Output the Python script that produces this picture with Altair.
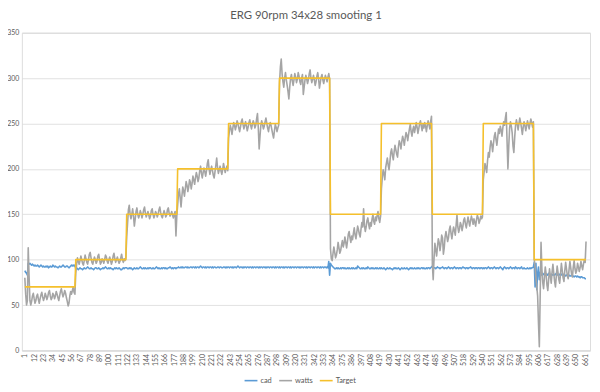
import altair as alt
import pandas as pd

# Target set-point segments: (first sample index, watts)
target_starts = [1, 61, 121, 181, 241, 301, 361, 421, 481, 541, 601]
target_levels = [70, 100, 150, 200, 250, 300, 150, 250, 150, 250, 100]
n_samples = 662

watts = [
    # 1-60
    80, 62, 50, 55, 113, 82, 55, 50, 54, 60, 63, 57, 52, 55, 60, 62, 56, 52, 57, 61,
    64, 59, 55, 58, 63, 60, 56, 59, 64, 66, 60, 56, 58, 63, 61, 57, 60, 65, 62, 58,
    55, 60, 65, 68, 63, 59, 62, 66, 63, 58, 54, 49, 52, 60, 65, 62, 66, 70, 64, 62,
    # 61-120
    85, 95, 102, 98, 95, 99, 104, 100, 96, 94, 99, 105, 101, 97, 95, 100, 106, 108, 102, 97,
    95, 99, 103, 100, 96, 98, 104, 106, 100, 95, 97, 101, 99, 96, 100, 105, 103, 98, 96, 100,
    103, 99, 95, 98, 104, 107, 101, 97, 100, 103, 99, 96, 98, 102, 106, 100, 97, 101, 99, 102,
    # 121-180
    125, 140, 155, 160, 150, 145, 150, 156, 148, 137, 145, 153, 157, 150, 146, 149, 154, 151, 146, 150,
    155, 158, 151, 147, 150, 153, 149, 145, 148, 154, 156, 150, 146, 149, 153, 151, 147, 150, 155, 158,
    152, 148, 146, 150, 154, 151, 147, 149, 155, 157, 151, 148, 150, 153, 149, 146, 150, 153, 126, 148,
    # 181-240
    160, 172, 178, 168, 158, 170, 180, 176, 170, 178, 186, 182, 175, 180, 188, 185, 178, 184, 192, 188,
    183, 190, 196, 192, 186, 190, 198, 203, 195, 190, 196, 201, 197, 192, 198, 206, 210, 200, 194, 199,
    203, 198, 193, 190, 197, 204, 212, 201, 195, 199, 203, 198, 194, 199, 206, 201, 196, 200, 203, 198,
    # 241-300
    234, 242, 248, 244, 238, 245, 251, 248, 243, 247, 253, 250, 245, 241, 246, 252, 255, 249, 244, 248,
    252, 247, 242, 246, 251, 254, 248, 244, 249, 253, 250, 245, 248, 255, 261, 245, 222, 236, 248, 253,
    249, 244, 247, 252, 256, 250, 245, 241, 247, 251, 248, 243, 238, 234, 242, 249, 246, 241, 245, 248,
    # 301-360
    295, 312, 321, 305, 296, 290, 300, 306, 298, 292, 285, 277, 290, 300, 304, 297, 292, 298, 305, 301,
    295, 299, 306, 302, 296, 293, 300, 304, 282, 290, 298, 303, 299, 294, 298, 305, 309, 300, 295, 299,
    303, 298, 292, 296, 302, 306, 299, 289, 295, 301, 304, 298, 294, 299, 303, 300, 296, 301, 305, 299,
    # 361-420
    112, 101, 99, 107, 114, 108, 102, 105, 111, 119, 113, 107, 110, 116, 121, 114, 118, 125, 119, 113,
    120, 128, 131, 124, 119, 126, 122, 129, 135, 127, 123, 130, 137, 133, 128, 125, 134, 141, 136, 156,
    138, 131, 136, 143, 146, 139, 134, 141, 137, 145, 150, 142, 139, 147, 143, 149, 153, 145, 141, 148,
    # 421-480
    178, 190, 199, 195, 188, 201, 207, 212, 204, 199, 208, 218, 222, 215, 210, 219, 226, 221, 216, 213,
    224, 231, 228, 222, 230, 236, 232, 226, 234, 240, 237, 231, 238, 244, 249, 241, 236, 243, 247, 240,
    245, 251, 246, 239, 244, 250, 253, 247, 242, 249, 245, 251, 247, 241, 248, 253, 249, 244, 252, 258,
    # 481-540
    95, 78, 102, 118, 111, 104, 114, 123, 119, 110, 117, 127, 124, 106, 113, 125, 131, 126, 120, 124,
    133, 137, 129, 123, 130, 136, 132, 127, 138, 149, 136, 130, 134, 141, 138, 132, 137, 144, 146, 139,
    135, 141, 147, 142, 137, 143, 148, 144, 139, 145, 141, 137, 144, 149, 146, 140, 143, 148, 145, 147,
    # 541-600
    188, 197, 206, 201, 196, 209, 218, 213, 224, 231, 227, 219, 228, 236, 240, 232, 226, 235, 244, 239,
    247, 243, 236, 245, 252, 248, 256, 262, 230, 200, 225, 245, 252, 247, 240, 225, 218, 235, 248, 254,
    249, 243, 250, 256, 251, 245, 238, 246, 252, 248, 242, 247, 253, 249, 244, 250, 255, 251, 246, 252,
    # 601-662
    100, 92, 80, 70, 60, 30, 4, 60, 119, 90, 75, 68, 80, 92, 84, 72, 66, 78, 90, 82,
    74, 86, 95, 85, 76, 70, 82, 93, 86, 78, 74, 85, 96, 88, 80, 76, 88, 97, 90, 82,
    79, 89, 98, 91, 84, 81, 92, 99, 90, 85, 88, 96, 92, 87, 91, 98, 93, 89, 95, 100, 97, 120,
]

cad = [
    # 1-60
    88, 86, 85, 83, 96, 95, 96, 95, 94, 95, 94, 93, 94, 93, 93, 94, 93, 92, 93, 94,
    93, 92, 93, 92, 92, 93, 92, 93, 91, 92, 93, 92, 92, 94, 93, 92, 93, 92, 92, 91,
    92, 93, 92, 92, 93, 94, 93, 92, 92, 93, 93, 92, 91, 92, 93, 94, 93, 94, 93, 94,
    # 61-120
    90, 91, 90, 89, 90, 91, 90, 90, 89, 90, 91, 90, 90, 91, 92, 91, 90, 90, 91, 90,
    90, 89, 90, 91, 91, 90, 90, 91, 90, 89, 90, 90, 91, 90, 91, 92, 91, 90, 90, 91,
    90, 91, 90, 90, 89, 90, 91, 90, 91, 90, 90, 91, 90, 89, 89, 90, 91, 90, 91, 91,
    # 121-180
    91, 90, 90, 91, 90, 91, 90, 89, 90, 91, 90, 90, 91, 90, 90, 91, 92, 91, 90, 90,
    91, 90, 91, 90, 90, 91, 90, 91, 91, 90, 90, 91, 90, 90, 91, 92, 91, 90, 91, 90,
    90, 91, 90, 91, 91, 90, 91, 90, 90, 91, 91, 92, 91, 90, 91, 90, 91, 91, 90, 91,
    # 181-240
    91, 92, 91, 91, 92, 91, 92, 91, 91, 92, 92, 91, 92, 91, 91, 92, 92, 91, 92, 92,
    91, 92, 91, 92, 92, 91, 92, 93, 92, 91, 92, 92, 91, 92, 91, 92, 92, 91, 92, 92,
    91, 92, 91, 92, 92, 91, 91, 92, 92, 91, 92, 92, 91, 91, 92, 92, 91, 92, 91, 92,
    # 241-300
    92, 91, 92, 92, 91, 92, 91, 92, 92, 91, 92, 93, 92, 91, 92, 92, 91, 92, 91, 92,
    92, 91, 92, 92, 91, 92, 92, 91, 92, 91, 92, 92, 91, 92, 92, 91, 92, 91, 92, 92,
    91, 92, 92, 91, 92, 91, 92, 92, 91, 92, 92, 91, 92, 92, 91, 92, 91, 92, 92, 91,
    # 301-360
    92, 91, 92, 92, 91, 92, 91, 92, 92, 91, 92, 92, 91, 92, 91, 92, 92, 91, 92, 92,
    91, 92, 92, 91, 92, 91, 92, 92, 91, 92, 92, 91, 92, 91, 92, 92, 91, 92, 92, 91,
    92, 91, 92, 92, 91, 92, 92, 91, 92, 91, 92, 92, 91, 92, 92, 91, 92, 91, 98, 83,
    # 361-420
    96, 94, 93, 92, 91, 90, 90, 91, 90, 91, 90, 90, 91, 90, 91, 91, 90, 91, 90, 90,
    91, 90, 91, 90, 90, 91, 90, 91, 90, 90, 91, 90, 93, 92, 91, 90, 90, 91, 90, 91,
    90, 90, 91, 90, 92, 91, 90, 90, 91, 90, 91, 90, 90, 91, 90, 91, 90, 90, 91, 90,
    # 421-480
    91, 90, 90, 91, 90, 89, 90, 91, 90, 90, 91, 90, 90, 89, 90, 91, 90, 91, 90, 90,
    91, 90, 89, 90, 91, 90, 90, 91, 90, 90, 91, 90, 89, 90, 91, 90, 91, 90, 90, 91,
    90, 90, 91, 90, 91, 90, 90, 91, 91, 90, 91, 90, 90, 91, 90, 91, 91, 90, 91, 92,
    # 481-540
    93, 90, 91, 91, 90, 91, 92, 91, 91, 90, 91, 91, 92, 91, 90, 91, 91, 90, 91, 92,
    91, 90, 91, 91, 90, 91, 92, 91, 90, 91, 91, 90, 91, 91, 90, 91, 92, 91, 91, 90,
    91, 91, 90, 91, 91, 92, 91, 90, 91, 91, 90, 91, 91, 90, 91, 91, 90, 91, 91, 90,
    # 541-600
    91, 90, 91, 91, 90, 91, 92, 91, 90, 91, 91, 90, 91, 92, 91, 90, 91, 91, 90, 91,
    92, 91, 90, 89, 91, 92, 91, 90, 91, 91, 90, 91, 92, 91, 90, 91, 91, 90, 92, 91,
    90, 91, 91, 90, 91, 92, 90, 90, 91, 90, 90, 90, 91, 90, 90, 91, 90, 91, 91, 92,
    # 601-662
    97, 70, 96, 67, 85, 92, 78, 86, 84, 83, 85, 84, 83, 85, 84, 84, 83, 85, 84, 83,
    84, 84, 83, 84, 83, 84, 85, 84, 83, 83, 84, 83, 84, 83, 83, 84, 83, 82, 83, 83,
    82, 83, 82, 82, 83, 82, 82, 81, 82, 82, 81, 82, 81, 81, 80, 81, 81, 80, 80, 80, 79, 79,
]

x_tick_labels = list(range(1, 662, 11))
y_ticks = [0, 50, 100, 150, 200, 250, 300, 350]

# expand the set-point table to one value per sample
target = []
for k, start in enumerate(target_starts):
    end = target_starts[k + 1] if k + 1 < len(target_starts) else n_samples + 1
    target += [target_levels[k]] * (end - start)

idx = list(range(1, n_samples + 1))
rows = []
for name, vals in (("cad", cad), ("watts", watts), ("Target", target)):
    for i, v in zip(idx, vals):
        rows.append({"i": i, "value": v, "series": name})
df = pd.DataFrame(rows)

series_order = ["cad", "watts", "Target"]
colors = ["#5B9BD5", "#A5A5A5", "#F5C02C"]

chart = (
    alt.Chart(df)
    .mark_line(strokeJoin="round")
    .encode(
        x=alt.X(
            "i:Q",
            scale=alt.Scale(domain=[-2.5, 666.7], nice=False, zero=False),
            axis=alt.Axis(
                title=None,
                values=x_tick_labels,
                labelAngle=-90,
                labelAlign="right",
                labelBaseline="middle",
                labelFontSize=7,
                labelColor="#595959",
                labelPadding=3,
                ticks=False,
                grid=False,
                domainColor="#D9D9D9",
                labelOverlap=False,
            ),
        ),
        y=alt.Y(
            "value:Q",
            scale=alt.Scale(domain=[0, 350], nice=False),
            axis=alt.Axis(
                title=None,
                values=y_ticks,
                labelFontSize=7,
                labelColor="#595959",
                labelPadding=3,
                ticks=False,
                domain=False,
                gridColor="#D9D9D9",
                gridWidth=0.8,
            ),
        ),
        color=alt.Color(
            "series:N",
            sort=series_order,
            scale=alt.Scale(domain=series_order, range=colors),
            legend=alt.Legend(
                title=None,
                orient="none",
                legendX=224,
                legendY=344,
                direction="horizontal",
                symbolType="stroke",
                symbolSize=169,
                symbolStrokeWidth=2,
                labelFontSize=7.5,
                labelColor="#595959",
                labelOffset=2,
                columnPadding=3,
            ),
        ),
        strokeWidth=alt.StrokeWidth(
            "series:N",
            scale=alt.Scale(domain=series_order, range=[1.6, 1.6, 2.2]),
            legend=None,
        ),
        detail="series:N",
        order="i:Q",
    )
    .properties(
        width=574,
        height=321,
        autosize=alt.AutoSizeParams(type="none"),
        padding={"left": 14, "top": 23, "right": 2, "bottom": 38},
        title=alt.TitleParams(
            "ERG 90rpm 34x28  smooting 1",
            fontSize=11.5,
            fontWeight="normal",
            color="#595959",
            font="Lato",
            offset=7,
        ),
    )
    .configure_view(stroke=None)
    .configure(font="Lato")
)

chart.save("out.html", embed_options={"renderer": "svg", "actions": False})
